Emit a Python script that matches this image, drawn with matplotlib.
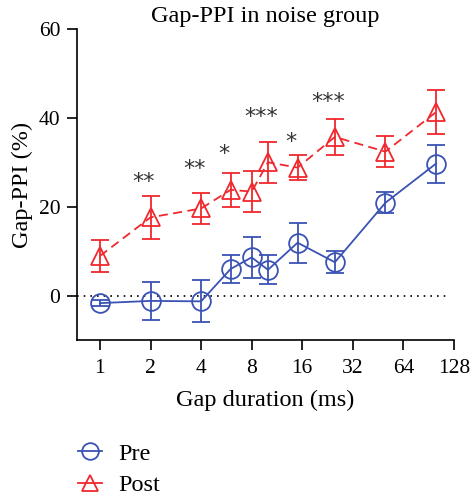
import numpy as np
import matplotlib
matplotlib.use('Agg')
import matplotlib.pyplot as plt
from matplotlib.ticker import FixedLocator, NullLocator
from matplotlib.lines import Line2D

plt.rcParams['font.family'] = ['Liberation Serif', 'DejaVu Serif']

# gap durations (ms)
gaps = [1, 2, 4, 6, 8, 10, 15, 25, 50, 100]

# Gap-PPI (%) mean and SEM
pre_mean = [-1.7, -1.2, -1.3, 6.0, 8.6, 5.8, 11.9, 7.5, 20.9, 29.7]
pre_sem = [0.6, 4.2, 4.7, 3.2, 4.6, 3.3, 4.5, 2.5, 2.4, 4.3]
post_mean = [8.9, 17.6, 19.6, 23.8, 23.4, 30.0, 28.8, 35.7, 32.4, 41.3]
post_sem = [3.5, 4.8, 3.4, 3.9, 4.7, 4.6, 2.8, 4.0, 3.5, 5.0]

# significance marks
star_x = [2, 4, 6, 10, 15, 25]
star_y = [25.6, 28.4, 31.8, 40.1, 34.6, 43.6]
star_txt = ['**', '**', '*', '***', '*', '***']

xticks = [1, 2, 4, 8, 16, 32, 64, 128]
yticks = [0, 20, 40, 60]

blue = '#3a52b4'
red = '#f0282d'

fig = plt.figure(figsize=(4.72, 5.0), dpi=100)
ax = fig.add_axes([0.163, 0.32, 0.799, 0.622])

ax.axhline(0, color='black', ls=(0, (1, 3)), lw=1.2, xmax=0.985)

ax.errorbar(gaps, pre_mean, yerr=pre_sem, color=blue, lw=1.3, marker='o',
            ms=13.5, mfc='none', mec=blue, mew=1.3, capsize=6.5, capthick=1.3,
            elinewidth=1.3)
ax.errorbar(gaps, post_mean, yerr=post_sem, color=red, lw=1.3, ls=(0, (5, 3)),
            marker='^', ms=13, mfc='none', mec=red, mew=1.3, capsize=6.5,
            capthick=1.3, elinewidth=1.3)

for x, y, s in zip(star_x, star_y, star_txt):
    ax.annotate(s, (x, y), xytext=(-5, 0), textcoords='offset points',
                ha='center', va='center', fontsize=16, family='DejaVu Sans',
                color='#333333')

ax.set_xscale('log', base=2)
ax.set_xlim(0.73, 128)
ax.set_ylim(-10, 60)
ax.xaxis.set_major_locator(FixedLocator(xticks))
ax.xaxis.set_minor_locator(NullLocator())
ax.set_xticklabels([str(t) for t in xticks])
ax.set_yticks(yticks)
ax.tick_params(direction='out', length=7, width=1.2, labelsize=15.5)
ax.tick_params(axis='x', pad=7)
ax.tick_params(axis='y', pad=5)
for side in ['top', 'right']:
    ax.spines[side].set_visible(False)
for side in ['left', 'bottom']:
    ax.spines[side].set_linewidth(1.2)

ax.set_title('Gap-PPI in noise group', fontsize=17.5, pad=5)
ax.set_xlabel('Gap duration (ms)', fontsize=17.5, labelpad=8)
ax.set_ylabel('Gap-PPI (%)', fontsize=17.5, labelpad=4)

handles = [
    Line2D([], [], color=blue, lw=1.3, marker='o', ms=12, mfc='none', mew=1.3),
    Line2D([], [], color=red, lw=1.3, marker='^', ms=12, mfc='none', mew=1.3),
]
fig.legend(handles, ['Pre', 'Post'], loc='upper left',
           bbox_to_anchor=(0.165, 0.115), frameon=False, fontsize=17.5,
           handlelength=1.0, handletextpad=0.65, labelspacing=0.4,
           borderaxespad=0, borderpad=0)

fig.savefig('out.png', dpi=100)
